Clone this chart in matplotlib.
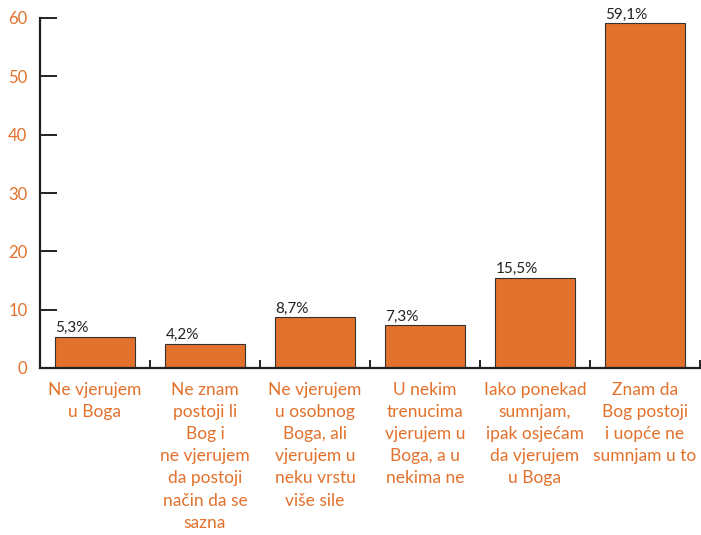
import numpy as np
import matplotlib
matplotlib.use("Agg")
from matplotlib import pyplot as plt

categories = [
    "Ne vjerujem\nu Boga",
    "Ne znam\npostoji li\nBog i\nne vjerujem\nda postoji\nnačin da se\nsazna",
    "Ne vjerujem\nu osobnog\nBoga, ali\nvjerujem u\nneku vrstu\nviše sile",
    "U nekim\ntrenucima\nvjerujem u\nBoga, a u\nnekima ne",
    "Iako ponekad\nsumnjam,\nipak osjećam\nda vjerujem\nu Boga",
    "Znam da\nBog postoji\ni uopće ne\nsumnjam u to",
]
values = [5.3, 4.2, 8.7, 7.3, 15.5, 59.1]
value_labels = ["5,3%", "4,2%", "8,7%", "7,3%", "15,5%", "59,1%"]
y_ticks = [0, 10, 20, 30, 40, 50, 60]

orange = "#E2712C"
plt.rcParams['font.family'] = ['Lato', 'DejaVu Sans']

fig = plt.figure(figsize=(7.01, 5.35), dpi=100)
ax = fig.add_axes([40 / 701, 1 - 368 / 535, 660 / 701, 350 / 535])

x = np.arange(len(values))
bar_w = 0.72
ax.bar(x, values, width=bar_w, color=orange, edgecolor="#333333", linewidth=0.8, zorder=2)

for xi, v, lab in zip(x, values, value_labels):
    ax.text(xi - bar_w / 2, v + 0.3, lab, ha="left", va="bottom", fontsize=11, color="#222222")

ax.set_xlim(-0.5, len(values) - 0.5)
ax.set_ylim(0, 60)

ax.spines['top'].set_visible(False)
ax.spines['right'].set_visible(False)
ax.spines['left'].set_linewidth(1.6)
ax.spines['bottom'].set_linewidth(1.6)
ax.spines['left'].set_color("#222222")
ax.spines['bottom'].set_color("#222222")

ax.set_yticks(y_ticks)
ax.set_yticklabels([str(t) for t in y_ticks], color=orange, fontsize=12)
ax.tick_params(axis='y', direction='in', length=12, width=1.4, color="#222222", pad=9)

# category boundary ticks on the x axis
ax.set_xticks(np.arange(len(values)) + 0.5, minor=True)
ax.set_xticks([])
ax.tick_params(axis='x', which='minor', direction='in', length=6, width=1.4, color="#222222")

for xi, c in zip(x, categories):
    ax.text(xi, -2.4, c, ha="center", va="top", fontsize=12.5, color=orange,
            linespacing=1.47, transform=ax.transData)

fig.savefig("out.png", dpi=100)
